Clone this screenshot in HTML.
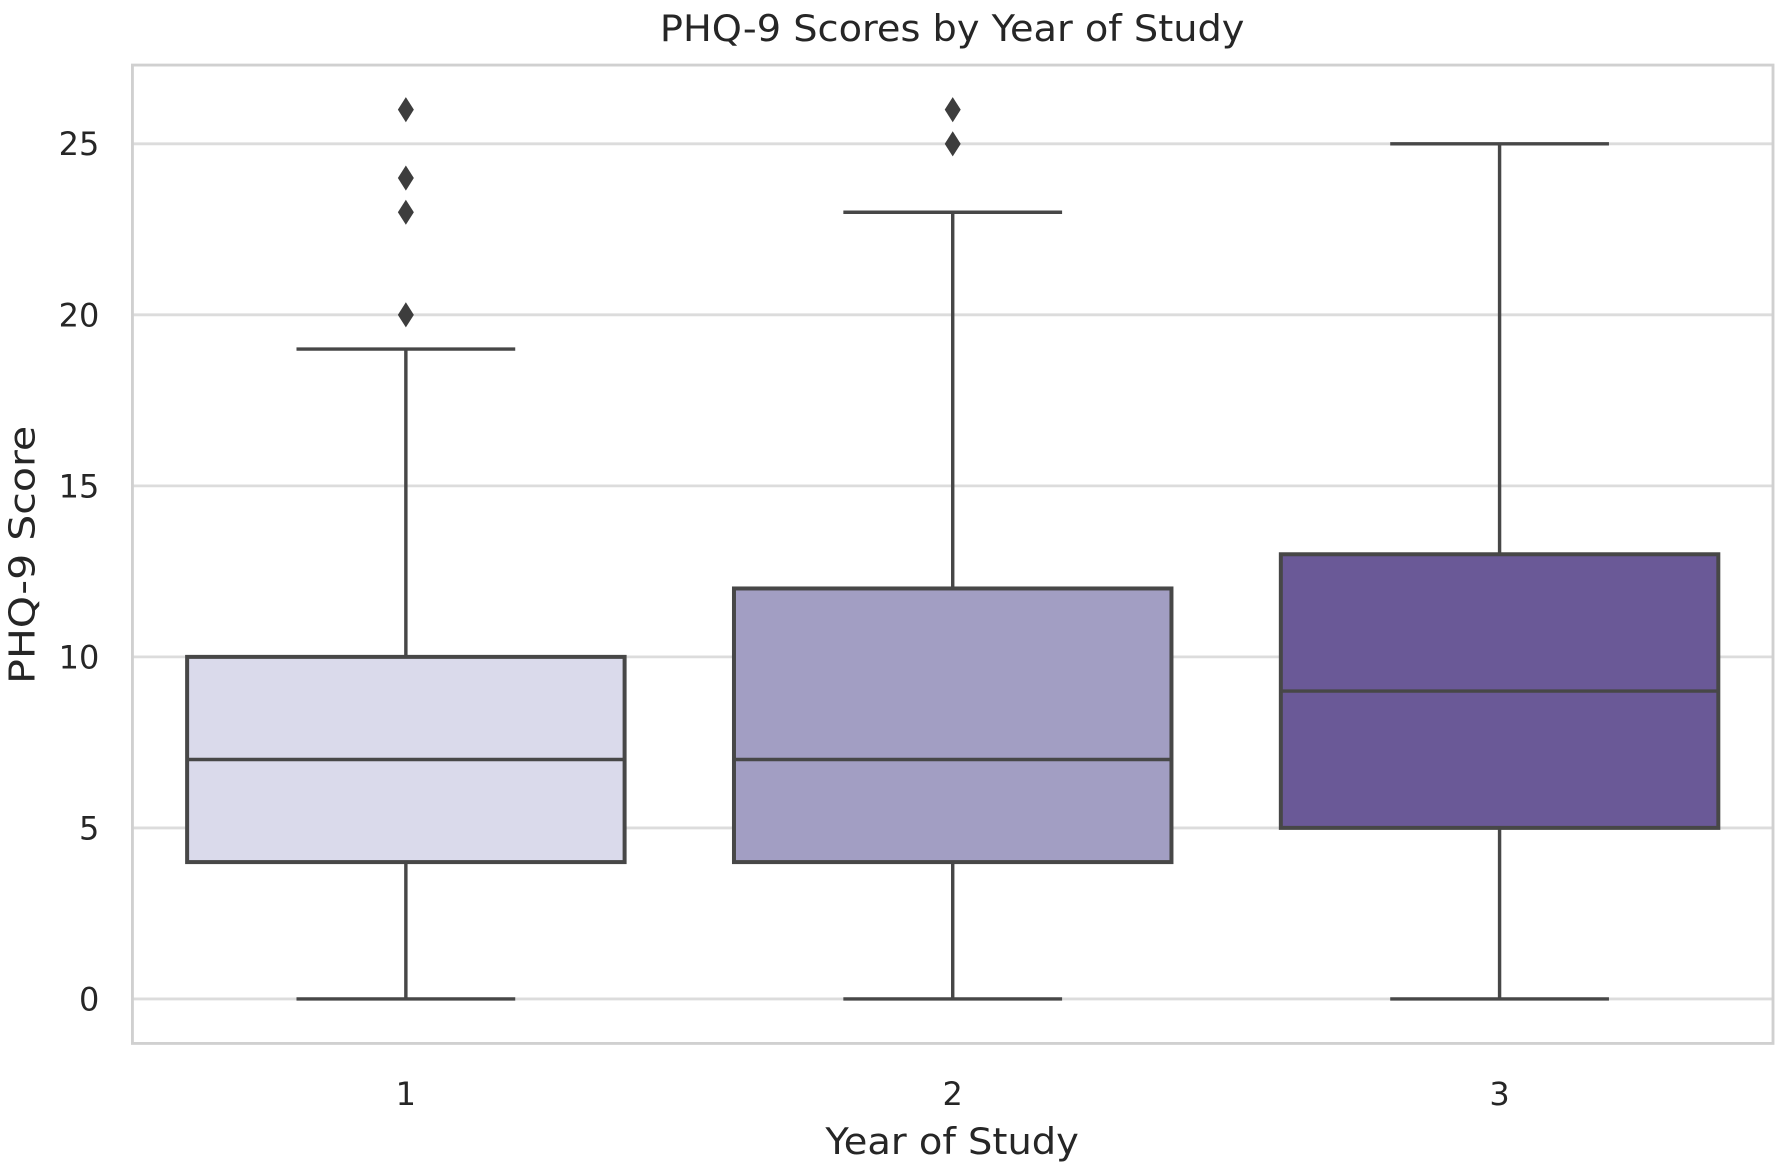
<!DOCTYPE html>
<html><head><meta charset="utf-8"><style>
html,body{margin:0;padding:0;background:#fff;}
svg{display:block;}
text{font-family:"DejaVu Sans","Liberation Sans",sans-serif;fill:#262626;}
</style></head><body>
<svg id="chart" width="1781" height="1169" viewBox="0 0 1560 1024" preserveAspectRatio="none" xmlns="http://www.w3.org/2000/svg">
<text x="834" y="36" text-anchor="middle" font-size="32" textLength="512" lengthAdjust="spacingAndGlyphs">PHQ-9 Scores by Year of Study</text>
<g id="grid"></g>
<g id="boxes"></g>
<rect x="116" y="57" width="1437" height="857" fill="none" stroke="#d0d0d0" stroke-width="2.5"/>
<g id="yticks"></g>
<g id="xticks"></g>
<text transform="translate(30,486) rotate(-90)" text-anchor="middle" font-size="31" textLength="226" lengthAdjust="spacingAndGlyphs">PHQ-9 Score</text>
<text x="834" y="1011" text-anchor="middle" font-size="32" textLength="222" lengthAdjust="spacingAndGlyphs">Year of Study</text>
</svg>
<script>
const categories = ["1","2","3"];
const q1 = [4,4,5];
const medians = [7,7,9];
const q3 = [10,12,13];
const whiskerLow = [0,0,0];
const whiskerHigh = [19,23,25];
const outliers = [[20,23,24,26],[25,26],[]];
const yTicks = [0,5,10,15,20,25];
const colors = ["#dadaeb","#a29ec3","#6a5997"];

const NS="http://www.w3.org/2000/svg";
const y0=875, pxPerUnit=(875-126)/25;
function yScale(v){return y0-v*pxPerUnit;}
const xStart=116, xEnd=1553, band=(xEnd-xStart)/categories.length;
function xScale(i){return xStart+band*(i+0.5);}
function mk(tag,attrs,parent){const e=document.createElementNS(NS,tag);for(const k in attrs)e.setAttribute(k,attrs[k]);parent.appendChild(e);return e;}

const grid=document.getElementById('grid'), yt=document.getElementById('yticks');
yTicks.forEach(t=>{
  const l=mk('line',{x1:116,x2:1553,y1:yScale(t),y2:yScale(t),stroke:'#dcdcdc','stroke-width':2.5},grid);
  
  
  const tx=mk('text',{x:87,y:yScale(t)+10,'text-anchor':'end','font-size':28},yt);
  tx.textContent=t;
  
  
});
const xt=document.getElementById('xticks');
categories.forEach((c,i)=>{
  const tx=mk('text',{x:xScale(i),y:968,'text-anchor':'middle','font-size':28},xt);
  tx.textContent=c;
  
  
});
const boxes=document.getElementById('boxes');
const bw=band*0.8, cw=bw/2, st='#474747';
categories.forEach((c,i)=>{
  const cx=xScale(i);
  const g=mk('g',{},boxes);
  
  
  mk('line',{x1:cx,x2:cx,y1:yScale(q3[i]),y2:yScale(whiskerHigh[i]),stroke:st,'stroke-width':3},g);
  mk('line',{x1:cx,x2:cx,y1:yScale(q1[i]),y2:yScale(whiskerLow[i]),stroke:st,'stroke-width':3},g);
  mk('line',{x1:cx-cw/2,x2:cx+cw/2,y1:yScale(whiskerHigh[i]),y2:yScale(whiskerHigh[i]),stroke:st,'stroke-width':3},g);
  mk('line',{x1:cx-cw/2,x2:cx+cw/2,y1:yScale(whiskerLow[i]),y2:yScale(whiskerLow[i]),stroke:st,'stroke-width':3},g);
  mk('rect',{x:cx-bw/2,y:yScale(q3[i]),width:bw,height:yScale(q1[i])-yScale(q3[i]),fill:colors[i],stroke:st,'stroke-width':3.5},g);
  mk('line',{x1:cx-bw/2,x2:cx+bw/2,y1:yScale(medians[i]),y2:yScale(medians[i]),stroke:st,'stroke-width':3},g);
  outliers[i].forEach(v=>{
    const y=yScale(v);
    const p=mk('path',{d:`M${cx},${y-11} L${cx+7},${y} L${cx},${y+11} L${cx-7},${y} Z`,fill:'#3d3d3d'},g);
    
    
  });
});
</script>
</body></html>
